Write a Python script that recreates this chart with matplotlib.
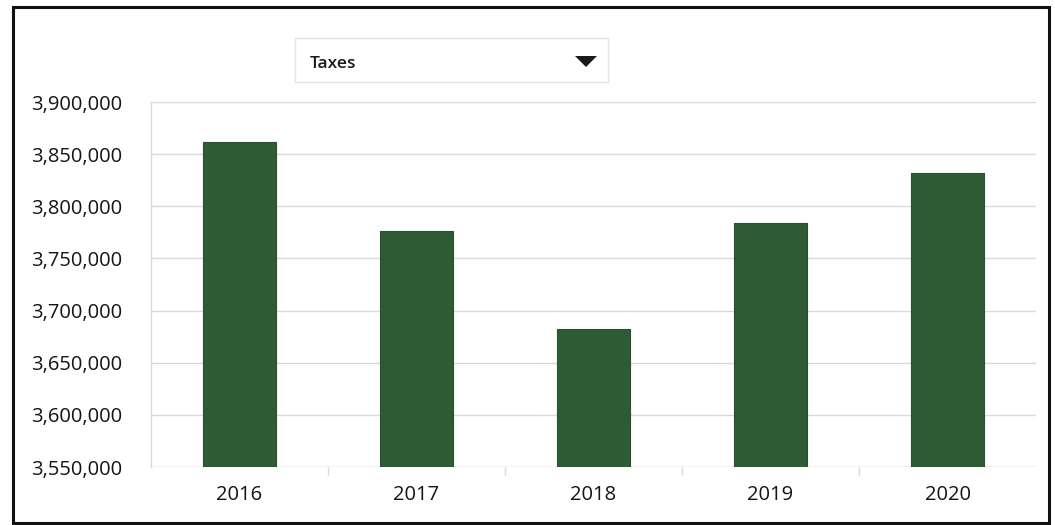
import matplotlib
matplotlib.use("Agg")
import matplotlib.pyplot as plt
from matplotlib.patches import Rectangle, Polygon
from matplotlib.ticker import FuncFormatter, MultipleLocator

years = ["2016", "2017", "2018", "2019", "2020"]
taxes = [3862000, 3776000, 3682000, 3784000, 3832000]
selected_measure = "Taxes"

y_min, y_max, y_step = 3550000, 3900000, 50000

plt.rcParams["font.family"] = ["Open Sans", "DejaVu Sans"]

W, H = 1055, 525
fig = plt.figure(figsize=(W / 100, H / 100), dpi=100)
fig.patch.set_facecolor("white")

ax = fig.add_axes([151 / W, 1 - 467 / H, (1036 - 151) / W, (467 - 102) / H])
x = range(len(years))
ax.bar(x, [v - y_min for v in taxes], bottom=y_min, width=0.41,
       color="#2e5b34", edgecolor="#28502e", linewidth=0.8, zorder=3)

ax.set_ylim(y_min, y_max)
ax.set_xlim(-0.5, len(years) - 0.5)
ax.yaxis.set_major_locator(MultipleLocator(y_step))
ax.yaxis.set_major_formatter(FuncFormatter(lambda v, p: f"{int(round(v)):,}"))
ax.set_xticks(list(x))
ax.set_xticklabels(years)
ax.set_xticks([i + 0.5 for i in range(len(years) - 1)], minor=True)

ax.grid(axis="y", color="#d9d9d9", linewidth=1.0, zorder=0)
for s in ["top", "right", "bottom"]:
    ax.spines[s].set_visible(False)
ax.spines["left"].set_color("#d9d9d9")
ax.spines["left"].set_linewidth(1.0)
ax.axhline(y_min, color="#d9d9d9", linewidth=1.0, zorder=1)

ax.tick_params(axis="y", length=0, pad=21, labelsize=14.5, labelcolor="#141414")
ax.tick_params(axis="x", which="major", length=0, pad=13, labelsize=14.5,
               labelcolor="#141414")
ax.tick_params(axis="x", which="minor", length=6, color="#d9d9d9", width=1)

# dropdown selector above the chart
fig.add_artist(Rectangle((295 / W, 1 - 82 / H), (608 - 295) / W, (82 - 38) / H,
                         transform=fig.transFigure, facecolor="white",
                         edgecolor="#e3e3e3", linewidth=1.0))
fig.text(310 / W, 1 - 64 / H, selected_measure, fontsize=12.5, fontweight="semibold",
         color="#1a1a1a", va="center", ha="left")
fig.add_artist(Polygon([(575 / W, 1 - 56 / H), (597 / W, 1 - 56 / H),
                        (586 / W, 1 - 67 / H)], closed=True,
                       transform=fig.transFigure, facecolor="#1a1a1a",
                       edgecolor="none"))

# outer frame
fig.add_artist(Rectangle((13 / W, 1 - 523 / H), (1049 - 13) / W, (523 - 7) / H,
                         transform=fig.transFigure, facecolor="none",
                         edgecolor="#111111", linewidth=2.2))

fig.savefig("out.png", dpi=100, facecolor="white")
